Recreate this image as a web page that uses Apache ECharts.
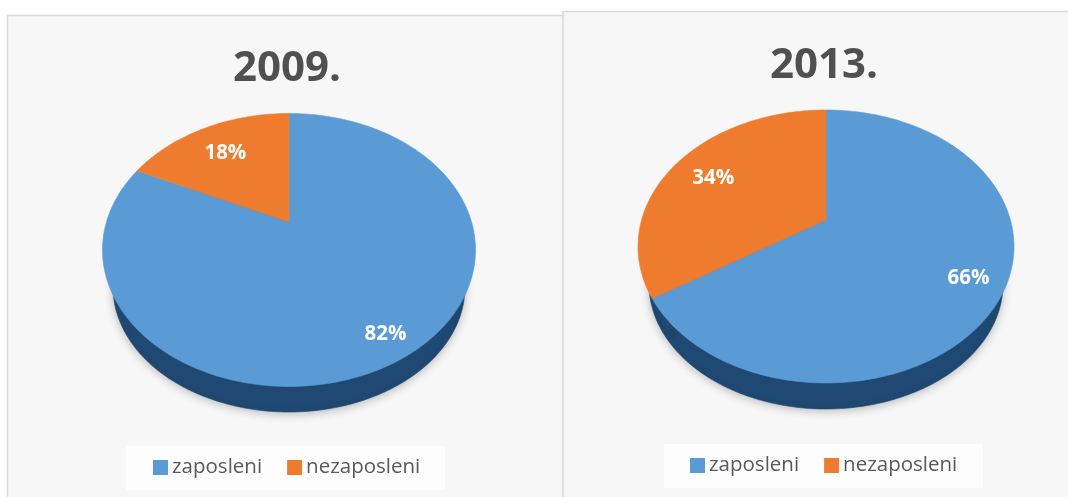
<!DOCTYPE html>
<html>
<head>
<meta charset="utf-8">
<style>
  html, body { margin: 0; padding: 0; background: #fff; }
  #chart { width: 1068px; height: 497px; }
</style>
<script src="https://cdn.jsdelivr.net/npm/echarts@6/dist/echarts.min.js"></script>
</head>
<body>
<div id="chart"></div>
<script>
// podaci
const categories = ['zaposleni', 'nezaposleni']
const years = ['2009.', '2013.']
const values2009 = [82, 18]
const values2013 = [66, 34]

const topColors = ['#5b9bd5', '#ef7c2e']
const sideColors = ['#1f4872', '#1f4872']

// raspored: elipsa gornje plohe, donja ploha, nagib perspektive
const panels = [
  { values: values2009, cx: 289, cy: 250, rx: 186.5, ry: 136.5, tilt: 0.205, sideCy: 287, sideRx: 176, sideRy: 125, labelR: [0.85, 0.72] },
  { values: values2013, cx: 826, cy: 246.5, rx: 188, ry: 136.5, tilt: 0.194, sideCy: 284, sideRx: 177, sideRy: 125, labelR: [0.82, 0.74] }
]

// kut na krugu -> tocka na elipsi (projekcija, sredina kruga ide u vrh kriske)
const project = (angle, r, p, cy, rx, ry) => {
  const u = r * Math.sin(angle)
  const v = r * Math.cos(angle)
  const d = 1 + p.tilt * v
  const y = (v + p.tilt) / d
  const x = u * Math.sqrt(1 - p.tilt * p.tilt) / d
  return [p.cx + rx * x, cy - ry * y]
}

const sector = (from, to, p, cy, rx, ry) => {
  const pts = [project(0, 0, p, cy, rx, ry)]
  const steps = Math.max(8, Math.ceil((to - from) * 40))
  for (let i = 0; i <= steps; i++) {
    pts.push(project(from + (to - from) * i / steps, 1, p, cy, rx, ry))
  }
  return pts
}

// kut pocetka i kraja kriske iz vrijednosti
const angles = (params, api) => {
  const value = api.value(0)
  const before = api.value(1)
  const total = api.value(2)
  return [before / total * Math.PI * 2, (before + value) / total * Math.PI * 2]
}

const renderTop = (panel, catIndex) => (params, api) => {
  const [from, to] = angles(params, api)
  const p = panel
  const color = topColors[catIndex]
  const mid = (from + to) / 2
  const pos = project(mid, p.labelR[catIndex], p, p.cy, p.rx, p.ry)
  return {
    type: 'group',
    children: [
      {
        type: 'polygon',
        shape: { points: sector(from, to, p, p.cy, p.rx, p.ry) },
        style: { fill: color, stroke: color, lineWidth: 0.6 }
      },
      {
        type: 'text',
        x: pos[0] - 1,
        y: pos[1] + 2,
        style: {
          text: api.value(0) + '%',
          fill: '#fff',
          font: 'bold 20.5px "Open Sans"',
          align: 'center',
          verticalAlign: 'middle'
        }
      }
    ]
  }
}

const renderSide = (panel, catIndex) => (params, api) => {
  const [from, to] = angles(params, api)
  const p = panel
  return {
    type: 'polygon',
    shape: { points: sector(from, to, p, p.sideCy, p.sideRx, p.sideRy) },
    style: {
      fill: sideColors[catIndex],
      stroke: sideColors[catIndex],
      lineWidth: 0.6,
      shadowBlur: 8,
      shadowColor: 'rgba(60,60,60,0.3)',
      shadowOffsetY: 2
    }
  }
}

const sliceData = (values, i) => {
  const total = values[0] + values[1]
  const before = i === 0 ? 0 : values[0]
  return [[values[i], before, total]]
}

const series = []
panels.forEach(panel => {
  categories.forEach((name, i) => {
    series.push({
      type: 'custom',
      name,
      coordinateSystem: 'none',
      silent: true,
      animation: false,
      z: 3,
      itemStyle: { color: topColors[i] },
      data: sliceData(panel.values, i),
      renderItem: renderTop(panel, i)
    })
  })
})
panels.forEach(panel => {
  categories.forEach((name, i) => {
    series.push({
      type: 'custom',
      name,
      coordinateSystem: 'none',
      silent: true,
      animation: false,
      z: 2,
      itemStyle: { color: sideColors[i] },
      data: sliceData(panel.values, i),
      renderItem: renderSide(panel, i)
    })
  })
})

const legendBase = {
  data: categories,
  icon: 'rect',
  itemWidth: 15,
  itemHeight: 15,
  itemGap: 25,
  selectedMode: false,
  textStyle: { color: '#595959', fontFamily: 'Open Sans', fontSize: 20.5, padding: [0, 0, 0, -1] }
}

const titleStyle = { color: '#505050', fontFamily: 'Open Sans', fontWeight: 'bold', fontSize: 42 }

const chart = echarts.init(document.getElementById('chart'))
chart.setOption({
  backgroundColor: '#fff',
  animation: false,
  title: [
    { text: years[0], left: 282, top: 43, textAlign: 'center', textStyle: titleStyle },
    { text: years[1], left: 819, top: 40, textAlign: 'center', textStyle: titleStyle }
  ],
  legend: [
    { ...legendBase, left: 148, top: 452 },
    { ...legendBase, left: 685, top: 450 }
  ],
  graphic: [
    { type: 'rect', z: 0, shape: { x: 7.5, y: 15.5, width: 556, height: 490 }, style: { fill: '#f7f7f7', stroke: '#d9d9d9', lineWidth: 1.5 } },
    { type: 'rect', z: 0, shape: { x: 563, y: 11.5, width: 520, height: 490 }, style: { fill: '#f7f7f7', stroke: '#d9d9d9', lineWidth: 1.5 } },
    { type: 'rect', z: 0, shape: { x: 126, y: 446, width: 319, height: 44 }, style: { fill: '#fdfdfd' } },
    { type: 'rect', z: 0, shape: { x: 664, y: 444, width: 319, height: 44 }, style: { fill: '#fdfdfd' } }
  ],
  series
})
</script>
</body>
</html>
